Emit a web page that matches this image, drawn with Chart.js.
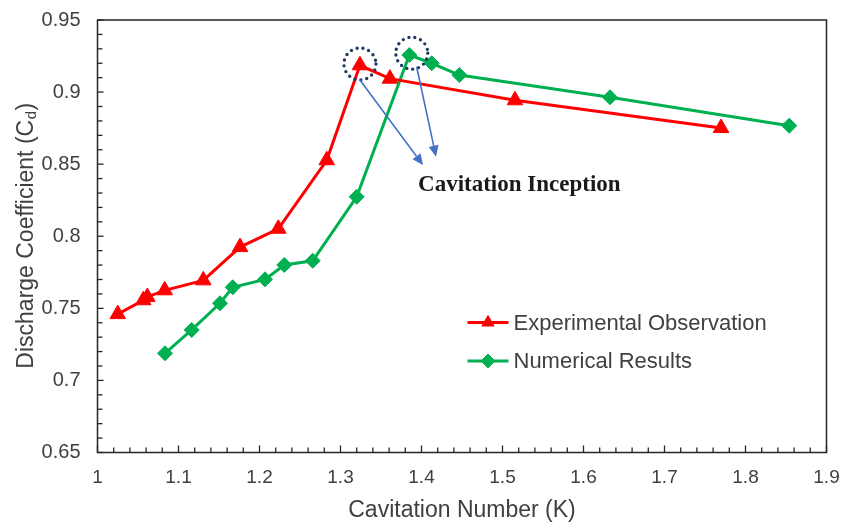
<!DOCTYPE html>
<html>
<head>
<meta charset="utf-8">
<script src="https://cdn.jsdelivr.net/npm/chart.js@4.4.1/dist/chart.umd.min.js"></script>
<style>
  html, body { margin: 0; padding: 0; background: #ffffff; }
  #wrap { width: 845px; height: 523px; position: relative; }
</style>
</head>
<body>
<div id="wrap"><canvas id="c" width="845" height="523"></canvas></div>
<script>
// ---- Data ----
const expK  = [1.025, 1.0565, 1.0615, 1.083, 1.1306, 1.176, 1.2232, 1.283, 1.324, 1.361, 1.5154, 1.7698];
const expCd = [0.746, 0.7556, 0.7579, 0.7625, 0.7694, 0.7925, 0.8052, 0.8527, 0.9186, 0.9093, 0.8943, 0.8751];
const numK  = [1.0833, 1.1163, 1.1512, 1.1669, 1.2068, 1.2306, 1.2657, 1.320, 1.385, 1.4126, 1.4467, 1.6327, 1.854];
const numCd = [0.7188, 0.735, 0.7535, 0.7646, 0.7701, 0.7801, 0.783, 0.8274, 0.9257, 0.920, 0.9118, 0.8964, 0.8767];
const seriesNames = ['Experimental Observation', 'Numerical Results'];
const xTicks = [1, 1.1, 1.2, 1.3, 1.4, 1.5, 1.6, 1.7, 1.8, 1.9];
const yTicks = [0.65, 0.7, 0.75, 0.8, 0.85, 0.9, 0.95];
const xTitle = 'Cavitation Number (K)';
const yTitleMain = 'Discharge Coefficient (C';
const yTitleSub = 'd';
const annotationText = 'Cavitation Inception';
// annotation anchors in data units
const circleCenters = [[1.324, 0.9195], [1.388, 0.927]];
const arrowStarts = [[1.324, 0.9084], [1.394, 0.9176]];
const arrowEnds   = [[1.4019, 0.8494], [1.4179, 0.8552]];
const textAnchor = [1.3957, 0.8352];

const RED = '#ff0000', GREEN = '#00b050', TXT = '#404040';
const SANS = '"Liberation Sans", Arial, sans-serif';

function pts(xs, ys) { return xs.map((x, i) => ({ x: x, y: ys[i] })); }
function fmt(v) { return String(+Number(v).toFixed(3)); }

const framePlugin = {
  id: 'framePlugin',
  beforeDatasetsDraw(chart) {
    const ctx = chart.ctx, a = chart.chartArea;
    const xs = chart.scales.x, ys = chart.scales.y;
    ctx.save();
    ctx.strokeStyle = '#262626';
    ctx.lineWidth = 1.5;
    ctx.strokeRect(a.left, a.top, a.right - a.left, a.bottom - a.top);
    ctx.lineWidth = 1.3;
    for (let i = 0; i <= 45; i++) {
      const v = 1 + i * 0.02;
      const px = xs.getPixelForValue(v);
      const len = (i % 5 === 0) ? 7 : 5;
      ctx.beginPath(); ctx.moveTo(px, a.bottom); ctx.lineTo(px, a.bottom - len); ctx.stroke();
    }
    for (let i = 0; i <= 30; i++) {
      const v = 0.65 + i * 0.01;
      const py = ys.getPixelForValue(v);
      const len = (i % 5 === 0) ? 6 : 5;
      ctx.beginPath(); ctx.moveTo(a.left, py); ctx.lineTo(a.left + len, py); ctx.stroke();
    }
    ctx.restore();
  },
  afterDraw(chart) {
    const ctx = chart.ctx, a = chart.chartArea;
    const xs = chart.scales.x, ys = chart.scales.y;
    ctx.save();
    ctx.fillStyle = TXT;
    ctx.font = '23px ' + SANS;
    ctx.textAlign = 'center'; ctx.textBaseline = 'alphabetic';
    ctx.fillText(xTitle, (a.left + a.right) / 2, 517);
    // y title with subscript
    ctx.save();
    ctx.translate(24, (a.top + a.bottom) / 2);
    ctx.rotate(-Math.PI / 2);
    const mainFont = '23px ' + SANS;
    const subFont = '15px ' + SANS;
    ctx.font = mainFont; const w1 = ctx.measureText(yTitleMain).width;
    ctx.font = subFont; const w2 = ctx.measureText(yTitleSub).width;
    ctx.font = mainFont; const w3 = ctx.measureText(')').width;
    let x0 = -(w1 + w2 + w3) / 2;
    ctx.textAlign = 'left'; ctx.textBaseline = 'alphabetic';
    ctx.font = mainFont; ctx.fillText(yTitleMain, x0, 9);
    ctx.font = subFont; ctx.fillText(yTitleSub, x0 + w1 + 0.5, 12);
    ctx.font = mainFont; ctx.fillText(')', x0 + w1 + w2 + 1, 9);
    ctx.restore();

    // dotted circles
    ctx.strokeStyle = '#203864';
    ctx.lineWidth = 3.4;
    ctx.lineCap = 'round';
    ctx.setLineDash([0, 6]);
    circleCenters.forEach(c => {
      ctx.beginPath();
      ctx.arc(xs.getPixelForValue(c[0]), ys.getPixelForValue(c[1]), 16, 0, Math.PI * 2);
      ctx.stroke();
    });
    ctx.setLineDash([]);
    ctx.lineCap = 'butt';
    // arrows
    ctx.strokeStyle = '#4472c4'; ctx.fillStyle = '#4472c4'; ctx.lineWidth = 1.6;
    arrowStarts.forEach((s, i) => {
      const e = arrowEnds[i];
      const x1 = xs.getPixelForValue(s[0]), y1 = ys.getPixelForValue(s[1]);
      const x2 = xs.getPixelForValue(e[0]), y2 = ys.getPixelForValue(e[1]);
      const ang = Math.atan2(y2 - y1, x2 - x1);
      const hl = 11, hw = 5;
      const bx = x2 - hl * Math.cos(ang), by = y2 - hl * Math.sin(ang);
      ctx.beginPath(); ctx.moveTo(x1, y1); ctx.lineTo(bx, by); ctx.stroke();
      ctx.beginPath();
      ctx.moveTo(x2, y2);
      ctx.lineTo(bx + hw * Math.sin(ang), by - hw * Math.cos(ang));
      ctx.lineTo(bx - hw * Math.sin(ang), by + hw * Math.cos(ang));
      ctx.closePath(); ctx.fill();
    });
    // annotation text
    ctx.fillStyle = '#1a1a1a';
    ctx.font = 'bold 23px "Liberation Serif", "Times New Roman", serif';
    ctx.textAlign = 'left'; ctx.textBaseline = 'middle';
    ctx.fillText(annotationText, xs.getPixelForValue(textAnchor[0]), ys.getPixelForValue(textAnchor[1]));

    // legend
    const lx = a.left + 370, ly = [a.top + 302.5, a.top + 341];
    chart.data.datasets.forEach((ds, i) => {
      const y = ly[i];
      ctx.strokeStyle = ds.borderColor; ctx.lineWidth = 3;
      ctx.beginPath(); ctx.moveTo(lx, y); ctx.lineTo(lx + 41, y); ctx.stroke();
      ctx.fillStyle = ds.backgroundColor; ctx.lineWidth = 1;
      Chart.helpers.drawPoint(ctx, { pointStyle: ds.pointStyle, radius: 7, borderWidth: 1 }, lx + 20.5, y);
      ctx.fillStyle = TXT;
      ctx.font = '22px ' + SANS;
      ctx.textAlign = 'left'; ctx.textBaseline = 'middle';
      ctx.fillText(ds.label, lx + 46, y + 1);
    });
    ctx.restore();
  }
};

new Chart(document.getElementById('c'), {
  type: 'scatter',
  data: {
    datasets: [
      {
        label: seriesNames[0], data: pts(expK, expCd), showLine: true,
        borderColor: RED, backgroundColor: RED, borderWidth: 3,
        pointStyle: 'triangle', pointRadius: 9, pointHoverRadius: 9,
        pointBorderColor: RED, pointBackgroundColor: RED, pointBorderWidth: 1
      },
      {
        label: seriesNames[1], data: pts(numK, numCd), showLine: true,
        borderColor: GREEN, backgroundColor: GREEN, borderWidth: 3,
        pointStyle: 'rectRot', pointRadius: 7.5, pointHoverRadius: 7.5,
        pointBorderColor: GREEN, pointBackgroundColor: GREEN, pointBorderWidth: 1
      }
    ]
  },
  options: {
    responsive: false,
    animation: false,
    layout: { padding: { left: 0, right: 18.5, top: 20, bottom: 0 } },
    plugins: { legend: { display: false }, tooltip: { enabled: false } },
    scales: {
      x: {
        type: 'linear', min: 1, max: 1.9,
        afterBuildTicks: s => { s.ticks = xTicks.map(v => ({ value: v })); },
        afterFit: s => { s.height = 70.5; s.paddingLeft = 0; s.paddingRight = 0; },
        grid: { display: false, drawTicks: false },
        border: { display: false },
        ticks: { color: TXT, font: { size: 19, family: SANS }, padding: 14, maxRotation: 0, callback: v => fmt(v) }
      },
      y: {
        type: 'linear', min: 0.65, max: 0.95,
        afterBuildTicks: s => { s.ticks = yTicks.map(v => ({ value: v })); },
        afterFit: s => { s.width = 97.5; s.paddingTop = 0; s.paddingBottom = 0; },
        grid: { display: false, drawTicks: false },
        border: { display: false },
        ticks: { color: TXT, font: { size: 20, family: SANS }, padding: 17, callback: v => fmt(v) }
      }
    }
  },
  plugins: [framePlugin]
});
</script>
</body>
</html>
